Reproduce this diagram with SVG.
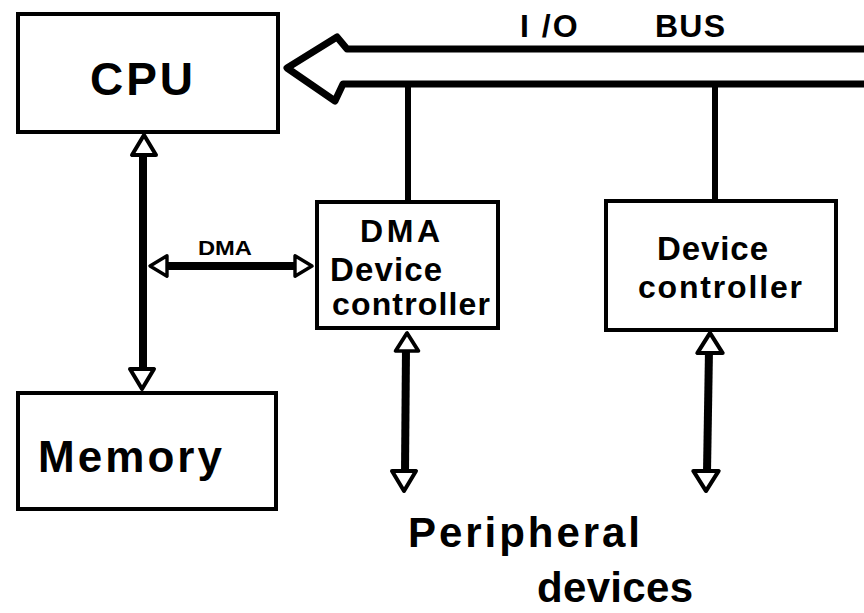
<svg xmlns="http://www.w3.org/2000/svg" width="864" height="613" viewBox="0 0 864 613">
  <style>
    .box { fill: #fff; stroke: #000; stroke-width: 4; }
    .lbl { font-family: "Liberation Sans", Arial, sans-serif; font-weight: bold; fill: #000; }
    .wire { stroke: #000; stroke-width: 8; fill: none; stroke-linecap: butt; }
    .tap { stroke: #000; stroke-width: 6; fill: none; }
    .head { fill: #fff; stroke: #000; stroke-width: 4; stroke-linejoin: round; }
    .bus { fill: #fff; stroke: #000; stroke-width: 7; stroke-linejoin: round; }
  </style>
  <defs>
    <!-- hollow arrowhead pointing up, tip at the origin -->
    <path id="tri" class="head" d="M0 0 L-12 20 L12 20 Z"/>
  </defs>
  <rect width="864" height="613" fill="#fff"/>

  <!-- connectors -->
  <g id="connectors">
    <!-- I/O bus (wide hollow arrow into the CPU) -->
    <path class="bus" d="M868 49 L347 49 L337 37 L287 68 L335 101 L343 84 L868 84"/>
    <!-- taps from the bus down to the controllers -->
    <line class="tap" x1="408" y1="87" x2="408" y2="202"/>
    <line class="tap" x1="715" y1="87" x2="715" y2="201"/>
    <!-- CPU <-> Memory -->
    <line class="wire" x1="143" y1="152" x2="143" y2="373"/>
    <use href="#tri" transform="translate(144 135)"/>
    <use href="#tri" transform="translate(142 389) rotate(180)"/>
    <!-- DMA path -->
    <line class="wire" x1="165" y1="266" x2="300" y2="266"/>
    <use href="#tri" transform="translate(150 266) rotate(-90) scale(0.85 0.85)"/>
    <use href="#tri" transform="translate(312 266) rotate(90) scale(0.85 0.85)"/>
    <text class="lbl" x="198" y="255" font-size="21" textLength="54" lengthAdjust="spacingAndGlyphs">DMA</text>
    <!-- DMA controller <-> peripherals -->
    <line class="wire" x1="406" y1="348" x2="405" y2="472"/>
    <use href="#tri" transform="translate(407 333) scale(0.95 0.9)"/>
    <use href="#tri" transform="translate(404 491) rotate(180)"/>
    <!-- device controller <-> peripherals -->
    <line class="wire" x1="709" y1="350" x2="707" y2="472"/>
    <use href="#tri" transform="translate(710 333) scale(1.05 1)"/>
    <use href="#tri" transform="translate(706 491) rotate(180) scale(1.05 1)"/>
  </g>

  <text class="lbl" x="520" y="37" font-size="32" letter-spacing="2">I /O</text>
  <text class="lbl" x="655" y="37" font-size="32" textLength="70" lengthAdjust="spacing">BUS</text>

  <g id="cpu">
    <rect class="box" x="18" y="14" width="260" height="118"/>
    <text class="lbl" x="90" y="95" font-size="46" textLength="103" lengthAdjust="spacing">CPU</text>
  </g>

  <g id="memory">
    <rect class="box" x="18" y="393" width="258" height="116"/>
    <text class="lbl" x="38" y="472" font-size="44" textLength="184" lengthAdjust="spacing">Memory</text>
  </g>

  <g id="dma-controller">
    <rect class="box" x="317" y="202" width="181" height="126"/>
    <text class="lbl" x="360" y="242" font-size="32" textLength="80" lengthAdjust="spacing">DMA</text>
    <text class="lbl" x="330" y="281" font-size="33" textLength="112" lengthAdjust="spacing">Device</text>
    <text class="lbl" x="332" y="315" font-size="32" textLength="158" lengthAdjust="spacing">controller</text>
  </g>

  <g id="device-controller">
    <rect class="box" x="606" y="201" width="230" height="129"/>
    <text class="lbl" x="657" y="260" font-size="33" textLength="111" lengthAdjust="spacing">Device</text>
    <text class="lbl" x="638" y="298" font-size="32" textLength="164" lengthAdjust="spacing">controller</text>
  </g>

  <g id="peripherals">
    <text class="lbl" x="408" y="547" font-size="42" textLength="232" lengthAdjust="spacing">Peripheral</text>
    <text class="lbl" x="537" y="602" font-size="42" textLength="156" lengthAdjust="spacing">devices</text>
  </g>
</svg>
